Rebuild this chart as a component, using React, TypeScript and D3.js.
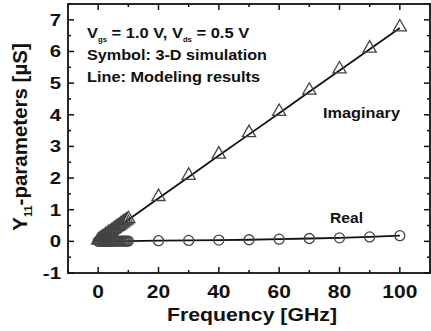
import React from 'react';
import * as d3 from 'd3';

// simulated points (GHz), dense near zero
const freqs = [0, 0.5, 1, 1.5, 2, 2.5, 3, 3.5, 4, 4.5, 5, 5.5, 6, 6.5, 7, 7.5, 8, 8.5, 9, 9.5, 10, 20, 30, 40, 50, 60, 70, 80, 90, 100];
const imagSim = [0, 0.03, 0.07, 0.1, 0.13, 0.17, 0.2, 0.24, 0.27, 0.3, 0.34, 0.37, 0.41, 0.44, 0.47, 0.51, 0.54, 0.58, 0.61, 0.64, 0.68, 1.38, 2.05, 2.72, 3.4, 4.07, 4.74, 5.41, 6.07, 6.74];
const realSim = [0, 0, 0, 0, 0, 0, 0, 0, 0, 0, 0.01, 0.01, 0.01, 0.01, 0.01, 0.01, 0.01, 0.01, 0.01, 0.01, 0.01, 0.02, 0.03, 0.04, 0.05, 0.07, 0.09, 0.11, 0.14, 0.18];

// modeling result lines
const modelFreqs = [0, 10, 20, 30, 40, 50, 60, 70, 80, 90, 100];
const imagModel = [0, 0.68, 1.36, 2.03, 2.71, 3.38, 4.05, 4.73, 5.4, 6.07, 6.74];
const realModel = [0, 0.01, 0.02, 0.03, 0.04, 0.05, 0.07, 0.09, 0.11, 0.14, 0.18];

const xTicks = [0, 20, 40, 60, 80, 100];
const xMinor = [-10, 10, 30, 50, 70, 90, 110];
const yTicks = [-1, 0, 1, 2, 3, 4, 5, 6, 7];
const yMinor = [-0.5, 0.5, 1.5, 2.5, 3.5, 4.5, 5.5, 6.5, 7.5];

const W = 431, H = 331;
const margin = { top: 4, right: 1, bottom: 58, left: 68 };
const FONT = '"Liberation Sans", Arial, sans-serif';
const INK = '#111';
// the scanned figure is a bit wider than tall
const SX = 1.2;

export default function App() {
  const x = d3.scaleLinear().domain([-10, 110]).range([margin.left, W - margin.right]);
  const y = d3.scaleLinear().domain([-1, 7.5]).range([H - margin.bottom, margin.top]);

  const line = d3.line<[number, number]>().x(d => x(d[0])).y(d => y(d[1]));
  const tri = d3.symbol().type(d3.symbolTriangle).size(75)();

  const x0 = margin.left, x1 = W - margin.right, y0 = H - margin.bottom, y1 = margin.top;

  return (
    <svg width={W} height={H} style={{ position: 'absolute', left: 0, top: 0, background: '#fff' }} fontFamily={FONT} fontWeight="bold">
      {/* model lines */}
      <path d={line(modelFreqs.map((f, i) => [f, imagModel[i]]))!} fill="none" stroke={INK} strokeWidth={1.8} />
      <path d={line(modelFreqs.map((f, i) => [f, realModel[i]]))!} fill="none" stroke={INK} strokeWidth={1.8} />

      {/* simulation symbols */}
      {freqs.map((f, i) => (
        <path key={'t' + i} d={tri!} transform={`translate(${x(f)},${y(imagSim[i]) - 1})`} fill="none" stroke="#444" strokeWidth={1.3} />
      ))}
      {freqs.map((f, i) => (
        <circle key={'c' + i} cx={x(f)} cy={y(realSim[i])} r={5} fill="none" stroke="#444" strokeWidth={1.3} />
      ))}

      {/* frame */}
      <rect x={x0} y={y1} width={x1 - x0} height={y0 - y1} fill="none" stroke={INK} strokeWidth={1.8} />

      {/* x ticks */}
      {xTicks.map(t => (
        <g key={'x' + t}>
          <line x1={x(t)} x2={x(t)} y1={y0} y2={y0 - 6} stroke={INK} strokeWidth={1.5} />
          <line x1={x(t)} x2={x(t)} y1={y1} y2={y1 + 6} stroke={INK} strokeWidth={1.5} />
          <text transform={`translate(${x(t)},298) scale(${SX},1)`} textAnchor="middle" fontSize={17.5} fill={INK}>{t}</text>
        </g>
      ))}
      {xMinor.map(t => (
        <g key={'xm' + t}>
          <line x1={x(t)} x2={x(t)} y1={y0} y2={y0 - 3} stroke={INK} strokeWidth={1.5} />
          <line x1={x(t)} x2={x(t)} y1={y1} y2={y1 + 3} stroke={INK} strokeWidth={1.5} />
        </g>
      ))}

      {/* y ticks */}
      {yTicks.map(t => (
        <g key={'y' + t}>
          <line x1={x0} x2={x0 + 6} y1={y(t)} y2={y(t)} stroke={INK} strokeWidth={1.5} />
          <line x1={x1} x2={x1 - 6} y1={y(t)} y2={y(t)} stroke={INK} strokeWidth={1.5} />
          <text transform={`translate(61,${y(t) + 6}) scale(${SX},1)`} textAnchor="end" fontSize={17} fill={INK}>{t}</text>
        </g>
      ))}
      {yMinor.map(t => (
        <g key={'ym' + t}>
          <line x1={x0} x2={x0 + 3} y1={y(t)} y2={y(t)} stroke={INK} strokeWidth={1.5} />
          <line x1={x1} x2={x1 - 3} y1={y(t)} y2={y(t)} stroke={INK} strokeWidth={1.5} />
        </g>
      ))}

      {/* axis titles */}
      <text x={167} y={321} textLength={170} lengthAdjust="spacingAndGlyphs" fontSize={18} fill={INK}>Frequency [GHz]</text>
      <text transform="translate(27,137) rotate(-90)" textAnchor="middle" fontSize={20.5} fill={INK}>
        Y<tspan fontSize={11} dy={5}>11</tspan><tspan dy={-5}>-parameters [µS]</tspan>
      </text>

      {/* annotations */}
      <text transform="translate(87,38) scale(1.1,1)" fontSize={15} fill={INK}>
        V<tspan fontSize={7} dy={4}>gs</tspan><tspan dy={-4}> = 1.0 V, V</tspan><tspan fontSize={7} dy={4}>ds</tspan><tspan dy={-4}> = 0.5 V</tspan>
      </text>
      <text x={87} y={60} textLength={180} lengthAdjust="spacingAndGlyphs" fontSize={15.5} fill={INK}>Symbol: 3-D simulation</text>
      <text x={87} y={82} textLength={173} lengthAdjust="spacingAndGlyphs" fontSize={15.5} fill={INK}>Line: Modeling results</text>
      <text x={323} y={118} textLength={77} lengthAdjust="spacingAndGlyphs" fontSize={14.5} fill={INK}>Imaginary</text>
      <text x={330} y={223} textLength={33} lengthAdjust="spacingAndGlyphs" fontSize={14.5} fill={INK}>Real</text>
    </svg>
  );
}
